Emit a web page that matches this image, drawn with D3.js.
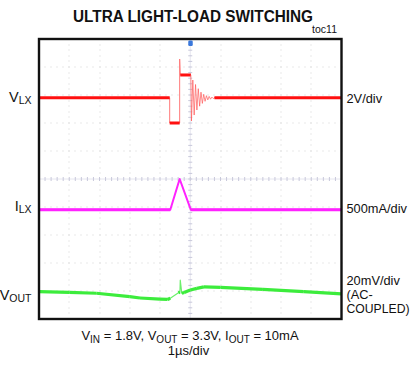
<!DOCTYPE html>
<html>
<head>
<meta charset="utf-8">
<script src="https://cdn.jsdelivr.net/npm/d3@7/dist/d3.min.js"></script>
<style>
  html, body { margin: 0; padding: 0; background: #fff; }
  svg { display: block; }
  text { font-family: "Liberation Sans", Arial, sans-serif; fill: #111; }
</style>
</head>
<body>
<svg id="chart" width="412" height="373"></svg>
<script>
// Scope settings: 10 horizontal divisions (1 µs/div), 10 vertical divisions
const timeDomain = [-5, 5];          // µs, trigger at centre
const divDomain = [-5, 5];           // vertical divisions
const timePerDiv = 1;                // µs/div

// Channel 1: LX node voltage (V), 2V/div, zero level at +2 div
const vlxScale = 2, vlxOffset = 2;
const vlxTrace = [
  [-5, 1.8], [-0.68, 1.8], [-0.68, 0], [-0.35, 0], [-0.35, 4.57],
  [-0.33, 3.43], [0.02, 3.43]
];
// DCM ringing after the inductor current reaches zero
const vlxRinging = [
  [0.02, 3.43], [0.04, 0.14], [0.085, 3.07], [0.13, 0.57], [0.175, 2.75],
  [0.22, 0.93], [0.265, 2.45], [0.31, 1.2], [0.355, 2.2], [0.40, 1.4],
  [0.445, 2.05], [0.49, 1.55], [0.535, 1.95], [0.58, 1.65], [0.625, 1.9],
  [0.67, 1.7], [0.715, 1.85], [0.76, 1.75], [0.80, 1.8]
];
const vlxTail = [[0.80, 1.8], [5, 1.8]];

// Channel 2: inductor current (A), 500mA/div, zero level at -1.1 div
const ilxScale = 0.5, ilxOffset = -1.1;
const ilxTrace = [[-5, 0], [-0.66, 0], [-0.35, 0.55], [0.02, 0], [5, 0]];

// Channel 3: output voltage ripple (mV), 20mV/div AC-coupled, zero at -4 div
const voutScale = 20, voutOffset = -4;
const voutTrace = [
  [-5, -0.5], [-4, -1], [-3.1, -1.6], [-2, -4], [-1.66, -5], [-1, -5.8],
  [-0.75, -6], [-0.66, -5.2], [-0.39, -1.2], [-0.34, -0.8], [-0.33, 7.7],
  [-0.28, -1.6], [-0.2, -1], [0, 0.7], [0.22, 1.9], [0.45, 2.9], [1, 2.6],
  [2.4, 1.2], [3.75, -0.5], [5, -2]
];

const leftLabels = [
  { main: "V", sub: "LX", y: 101.5 },
  { main: "I", sub: "LX", y: 210.5 },
  { main: "V", sub: "OUT", y: 300 }
];
const rightLabels = [
  { text: "2V/div", y: 103 },
  { text: "500mA/div", y: 213 },
  { text: "20mV/div", y: 285 },
  { text: "(AC-", y: 299 },
  { text: "COUPLED)", y: 313 }
];

const svg = d3.select("#chart");
const plotLeft = 39, plotRight = 341.5, plotTop = 39, plotBottom = 319;

const x = d3.scaleLinear().domain(timeDomain).range([plotLeft, plotRight]);
const y = d3.scaleLinear().domain(divDomain).range([plotBottom, plotTop]);

// Graticule: dotted division lines
const grid = svg.append("g");
const sub = 0.2;
const divTicks = d3.range(divDomain[0] + 1, divDomain[1], 1);
const timeTicks = d3.range(timeDomain[0] + timePerDiv, timeDomain[1], timePerDiv);
timeTicks.filter(t => t !== 0).forEach(t => {
  d3.range(divDomain[0], divDomain[1] + 0.001, sub).forEach(d => {
    grid.append("rect").attr("x", Math.round(x(t)) - 0.5).attr("y", Math.round(y(d)) - 0.5)
      .attr("width", 1).attr("height", 1).attr("fill", "#d4d4d4");
  });
});
divTicks.filter(d => d !== 0).forEach(d => {
  d3.range(timeDomain[0], timeDomain[1] + 0.001, sub).forEach(t => {
    grid.append("rect").attr("x", Math.round(x(t)) - 0.5).attr("y", Math.round(y(d)) - 0.5)
      .attr("width", 1).attr("height", 1).attr("fill", "#d4d4d4");
  });
});
// Centre axes with minor ticks
grid.append("line").attr("x1", x(0)).attr("x2", x(0)).attr("y1", plotTop).attr("y2", plotBottom)
  .attr("stroke", "#e6e6f0").attr("stroke-width", 1);
grid.append("line").attr("x1", plotLeft).attr("x2", plotRight).attr("y1", y(0)).attr("y2", y(0))
  .attr("stroke", "#e6e6f0").attr("stroke-width", 1);
d3.range(divDomain[0], divDomain[1] + 0.001, sub).forEach(d => {
  grid.append("line").attr("x1", x(0) - 2).attr("x2", x(0) + 2)
    .attr("y1", y(d)).attr("y2", y(d)).attr("stroke", "#c8c8da").attr("stroke-width", 1);
});
d3.range(timeDomain[0], timeDomain[1] + 0.001, sub).forEach(t => {
  grid.append("line").attr("x1", x(t)).attr("x2", x(t))
    .attr("y1", y(0) - 2).attr("y2", y(0) + 2).attr("stroke", "#c8c8da").attr("stroke-width", 1);
});

// Draw a trace: thin line for fast edges, thick band where the level is settled
function drawTrace(data, scale, offset, color, thin, thick, thinColor) {
  const toY = v => y(offset + v / scale);
  const line = d3.line().x(d => x(d[0])).y(d => toY(d[1]));
  const g = svg.append("g");
  g.append("path").attr("d", line(data)).attr("fill", "none")
    .attr("stroke", thinColor || color).attr("stroke-width", thin)
    .attr("stroke-linejoin", "round");
  for (let i = 1; i < data.length; i++) {
    const a = data[i - 1], b = data[i];
    const dt = b[0] - a[0];
    const slope = Math.abs(toY(b[1]) - toY(a[1])) / Math.max(1e-6, x(b[0]) - x(a[0]));
    if (dt > 0 && slope < 0.6) {
      g.append("path").attr("d", line([a, b])).attr("fill", "none")
        .attr("stroke", color).attr("stroke-width", thick).attr("stroke-linecap", "butt");
    }
  }
}

const red = "#ff1010", magenta = "#ff22ff", green = "#3cec3c";
drawTrace(vlxTrace, vlxScale, vlxOffset, red, 1, 3, "#ff7a7a");
// ringing rendered as a fine, lighter line
svg.append("path")
  .attr("d", d3.line().x(d => x(d[0])).y(d => y(vlxOffset + d[1] / vlxScale))(vlxRinging))
  .attr("fill", "none").attr("stroke", "#ff5a5a").attr("stroke-opacity", 0.7).attr("stroke-width", 1);
drawTrace(vlxTail, vlxScale, vlxOffset, red, 1, 3);
drawTrace(ilxTrace, ilxScale, ilxOffset, magenta, 2, 3);
drawTrace(voutTrace, voutScale, voutOffset, green, 1.2, 3.2, "#6cf06c");

// Frame
svg.append("rect").attr("x", plotLeft).attr("y", plotTop)
  .attr("width", plotRight - plotLeft).attr("height", plotBottom - plotTop)
  .attr("fill", "none").attr("stroke", "#111").attr("stroke-width", 2.4);

// Trigger marker
svg.append("rect").attr("x", x(0) - 2).attr("y", plotTop + 1.5).attr("width", 4.5).attr("height", 5.5)
  .attr("rx", 1.2).attr("fill", "#3a78dc");

// Title and figure number
svg.append("text").attr("x", 193).attr("y", 21.5).attr("text-anchor", "middle")
  .attr("font-size", 16).attr("font-weight", "bold")
  .attr("textLength", 240).attr("lengthAdjust", "spacingAndGlyphs")
  .text("ULTRA LIGHT-LOAD SWITCHING");
svg.append("text").attr("x", 337).attr("y", 33).attr("text-anchor", "end")
  .attr("font-size", 10.5).text("toc11");

// Channel names
leftLabels.forEach(l => {
  const t = svg.append("text").attr("x", 31.5).attr("y", l.y).attr("text-anchor", "end")
    .attr("font-size", 14.5);
  t.append("tspan").text(l.main);
  t.append("tspan").attr("font-size", 10.5).attr("dy", 2).text(l.sub);
});

// Channel scales
rightLabels.forEach(l => {
  svg.append("text").attr("x", 346.5).attr("y", l.y).attr("font-size", 12.8)
    .attr("textLength", l.text === "COUPLED)" ? 63 : null)
    .attr("lengthAdjust", "spacingAndGlyphs").text(l.text);
});

// Test conditions
const cond = svg.append("text").attr("x", 190).attr("y", 340).attr("text-anchor", "middle")
  .attr("font-size", 13);
[["V", "IN", " = 1.8V, "], ["V", "OUT", " = 3.3V, "], ["I", "OUT", " = 10mA"]].forEach(p => {
  cond.append("tspan").attr("dy", 0).text(p[0]);
  cond.append("tspan").attr("font-size", 10).attr("dy", 2.5).text(p[1]);
  cond.append("tspan").attr("dy", -2.5).text(p[2]);
});
svg.append("text").attr("x", 188.5).attr("y", 355).attr("text-anchor", "middle")
  .attr("font-size", 13).text("1µs/div");
</script>
</body>
</html>
